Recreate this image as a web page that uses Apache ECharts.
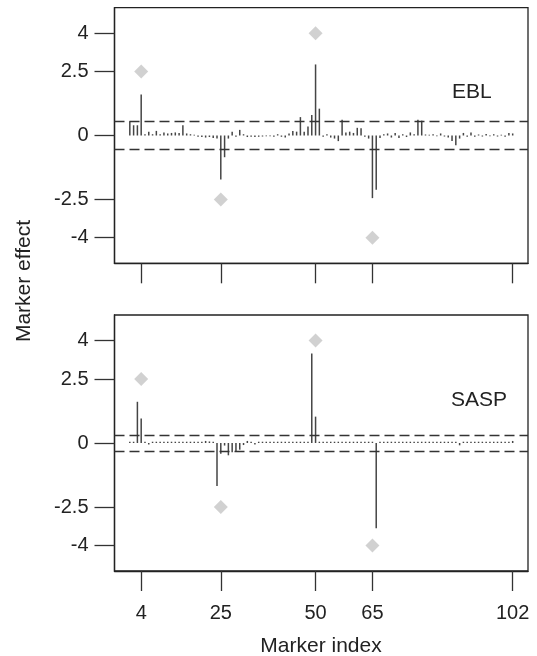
<!DOCTYPE html>
<html>
<head>
<meta charset="utf-8">
<script src="https://cdn.jsdelivr.net/npm/echarts@6/dist/echarts.min.js"></script>
<style>
  html, body { margin: 0; padding: 0; background: #fff; }
  #main { width: 537px; height: 656px; }
</style>
</head>
<body>
<div id="main"></div>
<script>
// tick positions
var markerTicks = [4, 25, 50, 65, 102];
var effectTicks = [4, 2.5, 0, -2.5, -4];

// simulated (true) QTL effects - grey diamonds
var trueIndex = [4, 25, 50, 65];
var trueEffect = [2.5, -2.5, 4, -4];

// estimated marker effects, marker 1..102
var eblEffect = [
  0.56, 0.40, 0.40, 1.60, 0.05, 0.15, 0.05, 0.18, 0.05, 0.12,
  0.08, 0.10, 0.12, 0.10, 0.40, 0.08, 0.05, 0.03, -0.05, -0.06,
  -0.08, -0.06, -0.10, -0.12, -1.72, -0.85, -0.12, 0.15, -0.05, 0.22,
  0.05, -0.06, -0.05, -0.06, -0.05, -0.04, -0.03, -0.03, -0.05, 0.05,
  -0.05, -0.08, 0.08, 0.18, 0.15, 0.72, 0.15, 0.35, 0.80, 2.78,
  1.05, -0.05, 0.05, -0.08, -0.12, -0.22, 0.62, 0.12, 0.15, 0.10,
  0.30, 0.28, -0.05, -0.12, -2.45, -2.12, -0.10, 0.05, 0.08, -0.08,
  0.10, -0.10, 0.05, -0.06, 0.12, 0.05, 0.62, 0.58, 0.04, 0.03,
  0.05, -0.03, 0.08, -0.04, -0.08, -0.22, -0.38, -0.12, 0.10, -0.05,
  0.12, -0.05, 0.04, -0.04, 0.06, -0.03, 0.05, -0.04, 0.03, -0.05,
  0.10, 0.08
];
var saspEffect = [
  0.05, 0.05, 1.61, 0.96, 0.05, -0.06, 0.05, 0.05, 0.05, 0.05,
  0.05, 0.05, 0.05, 0.05, 0.05, 0.05, 0.05, 0.05, 0.05, 0.05,
  0.08, 0.06, 0.05, -1.68, -0.42, -0.10, -0.48, -0.36, -0.32, -0.26,
  -0.08, 0.08, 0.05, -0.06, 0.05, 0.05, 0.05, 0.05, 0.05, 0.05,
  0.05, 0.05, 0.05, 0.05, 0.05, 0.05, 0.05, 0.05, 3.50, 1.03,
  0.05, 0.05, 0.05, 0.05, 0.05, 0.05, 0.05, 0.05, 0.05, 0.05,
  0.05, 0.05, 0.05, 0.05, 0.05, -3.33, 0.05, 0.05, 0.05, 0.05,
  0.05, 0.05, 0.05, 0.05, 0.05, 0.05, 0.05, 0.05, 0.05, 0.05,
  0.05, 0.05, 0.05, 0.05, 0.05, 0.05, 0.05, -0.09, 0.05, 0.05,
  0.05, 0.05, 0.05, 0.05, 0.05, 0.05, 0.05, 0.05, 0.05, 0.05,
  0.05, 0.08
];

// significance thresholds (dashed lines)
var eblCut = [0.55, -0.53];
var saspCut = [0.32, -0.32];

var panelNames = ['EBL', 'SASP'];

var FONT = '"Liberation Sans", Arial, sans-serif';
var INK = '#222';

var chart = echarts.init(document.getElementById('main'));

// vertical "h"-type lines from 0 to the effect
function stems(values, gi) {
	var pts = [];
	for (var i = 0; i < values.length; i++) {
		pts.push([i + 1, values[i]]);
	}
	return {
		type: 'custom',
		xAxisIndex: gi,
		yAxisIndex: gi,
		silent: true,
		data: pts,
		renderItem: function (params, api) {
			var p0 = api.coord([api.value(0), 0]);
			var p1 = api.coord([api.value(0), api.value(1)]);
			return {
				type: 'line',
				shape: { x1: p0[0], y1: p0[1], x2: p1[0], y2: p1[1] },
				style: { stroke: '#454545', lineWidth: 1.5 }
			};
		}
	};
}

// grey diamonds + dashed threshold lines
function truth(cuts, gi) {
	var pts = [];
	for (var i = 0; i < trueIndex.length; i++) {
		pts.push([trueIndex[i], trueEffect[i]]);
	}
	var lines = [];
	for (var j = 0; j < cuts.length; j++) {
		lines.push({ yAxis: cuts[j] });
	}
	return {
		type: 'scatter',
		xAxisIndex: gi,
		yAxisIndex: gi,
		silent: true,
		symbol: 'diamond',
		symbolSize: [14, 14],
		itemStyle: { color: '#c6c6c6' },
		data: pts,
		markLine: {
			silent: true,
			symbol: 'none',
			label: { show: false },
			lineStyle: { color: '#333', width: 1.3, type: [10, 5] },
			data: lines
		}
	};
}

function xAxisFor(gi) {
	return {
		type: 'value',
		gridIndex: gi,
		min: -3.04,
		max: 106.04,
		axisLine: { show: true, onZero: false, lineStyle: { color: INK, width: 1.3 } },
		splitLine: { show: false },
		axisTick: { show: true, customValues: markerTicks, length: 20, lineStyle: { color: '#333', width: 1.3 } },
		axisLabel: {
			show: gi === 1,
			customValues: markerTicks,
			fontSize: 20,
			fontFamily: FONT,
			color: INK,
			margin: 32
		}
	};
}

function yAxisFor(gi) {
	return {
		type: 'value',
		gridIndex: gi,
		min: -5,
		max: 5,
		axisLine: { show: true, onZero: false, lineStyle: { color: INK, width: 1.3 } },
		splitLine: { show: false },
		axisTick: { show: true, customValues: effectTicks, length: 20, lineStyle: { color: '#333', width: 1.3 } },
		axisLabel: {
			customValues: effectTicks,
			fontSize: 20,
			fontFamily: FONT,
			color: INK,
			margin: 26,
			formatter: function (v) { return String(v); }
		}
	};
}

var option = {
	backgroundColor: '#fff',
	animation: false,
	grid: [
		{ left: 114.5, top: 7.7, width: 413.5, height: 255.6, show: true, borderColor: INK, borderWidth: 1.3 },
		{ left: 114.5, top: 315, width: 413.5, height: 256, show: true, borderColor: INK, borderWidth: 1.3 }
	],
	xAxis: [xAxisFor(0), xAxisFor(1)],
	yAxis: [yAxisFor(0), yAxisFor(1)],
	series: [
		stems(eblEffect, 0),
		truth(eblCut, 0),
		stems(saspEffect, 1),
		truth(saspCut, 1)
	],
	graphic: [
		{ type: 'text', x: 452, y: 92, style: { text: panelNames[0], font: '21px ' + FONT, fill: INK, align: 'left', verticalAlign: 'middle' } },
		{ type: 'text', x: 451, y: 400, style: { text: panelNames[1], font: '21px ' + FONT, fill: INK, align: 'left', verticalAlign: 'middle' } },
		{ type: 'text', x: 321, y: 646, style: { text: 'Marker index', font: '21px ' + FONT, fill: INK, align: 'center', verticalAlign: 'middle' } },
		{ type: 'text', x: 24, y: 281, rotation: Math.PI / 2, style: { text: 'Marker effect', font: '21px ' + FONT, fill: INK, align: 'center', verticalAlign: 'middle' } }
	]
};

chart.setOption(option);
</script>
</body>
</html>
